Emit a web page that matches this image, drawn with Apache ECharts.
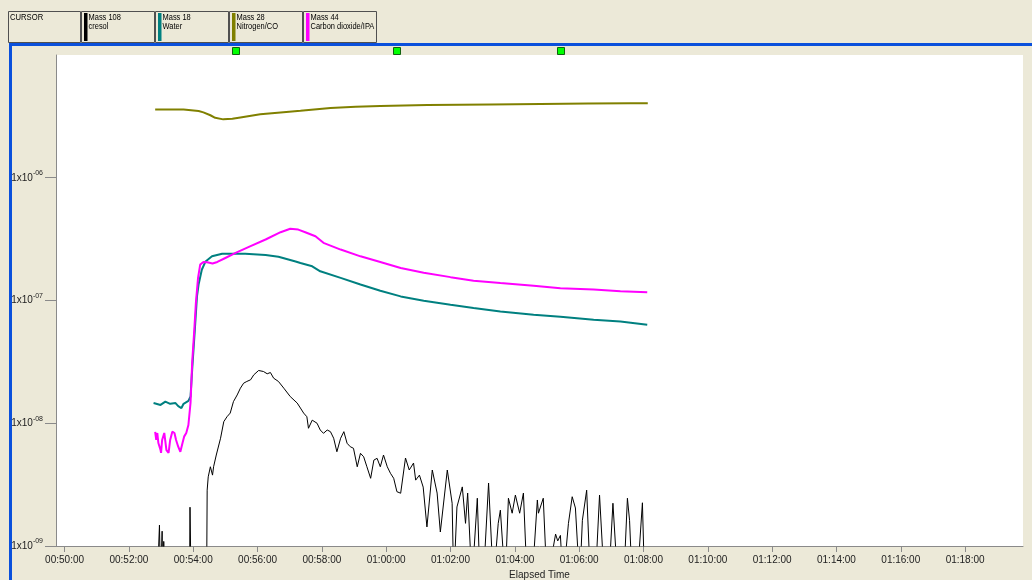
<!DOCTYPE html>
<html>
<head>
<meta charset="utf-8">
<script src="https://cdn.jsdelivr.net/npm/echarts@6/dist/echarts.min.js"></script>
<style>
  html, body { margin: 0; padding: 0; background: #ECE9D8; }
  #chart { width: 1032px; height: 580px; }
</style>
</head>
<body>
<div id="chart"></div>
<script>
// Elapsed time in seconds, partial pressure in Torr (log scale)
const xTickSeconds = [3000, 3120, 3240, 3360, 3480, 3600, 3720, 3840, 3960, 4080, 4200, 4320, 4440, 4560, 4680];
const cursorSeconds = [3320, 3621, 3927];

const legendMass = ['Mass 108', 'Mass 18', 'Mass 28', 'Mass 44'];
const legendName = ['cresol', 'Water', 'Nitrogen/CO', 'Carbon dioxide/IPA'];
const legendColor = ['#000000', '#008080', '#808000', '#FF00FF'];

// Mass 108 (cresol)
const mass108 = [
  [3169,5e-10],[3173,5e-10],[3177,1.48e-9],[3179,5e-10],[3182,1.32e-9],[3183,5e-10],[3185,1.09e-9],[3188,5e-10],
  [3233,5e-10],[3234,2.07e-9],[3236,5e-10],[3265,5e-10],[3266,2.85e-9],[3268,3.66e-9],[3272,4.42e-9],[3276,3.78e-9],
  [3278,4.42e-9],[3283,5.51e-9],[3291,7.55e-9],[3294,7.31e-9],[3297,1.03e-8],[3303,1.13e-8],[3309,1.21e-8],[3315,1.50e-8],
  [3322,1.70e-8],[3328,1.93e-8],[3334,2.12e-8],[3340,2.19e-8],[3347,2.26e-8],[3353,2.48e-8],[3362,2.69e-8],[3371,2.64e-8],
  [3378,2.53e-8],[3384,2.59e-8],[3390,2.33e-8],[3399,2.19e-8],[3409,1.93e-8],[3421,1.65e-8],[3434,1.46e-8],[3440,1.33e-8],
  [3446,1.21e-8],[3452,1.13e-8],[3455,9.10e-9],[3462,1.06e-8],[3471,1.00e-8],[3477,8.81e-9],[3483,8.28e-9],[3490,8.81e-9],
  [3496,8.54e-9],[3502,7.55e-9],[3508,5.86e-9],[3515,7.55e-9],[3521,8.54e-9],[3527,6.87e-9],[3533,6.44e-9],[3539,6.25e-9],
  [3546,4.42e-9],[3552,5.69e-9],[3558,5.33e-9],[3564,4.42e-9],[3571,3.56e-9],[3577,5.01e-9],[3583,5.18e-9],[3589,4.42e-9],
  [3595,5.51e-9],[3602,4.42e-9],[3608,3.91e-9],[3614,3.56e-9],[3620,2.77e-9],[3627,2.69e-9],[3636,5.21e-9],[3643,4.16e-9],
  [3651,4.74e-9],[3655,3.44e-9],[3662,3.78e-9],[3669,3.02e-9],[3676,1.43e-9],[3686,4.16e-9],[3695,2.70e-9],[3701,1.30e-9],
  [3714,4.16e-9],[3723,2.23e-9],[3726,5e-10],[3732,2.08e-9],[3742,3.03e-9],[3748,1.53e-9],[3752,2.70e-9],[3760,5e-10],
  [3770,2.45e-9],[3775,5e-10],[3781,5e-10],[3791,3.26e-9],[3800,5e-10],[3809,1.53e-9],[3813,1.96e-9],[3822,5e-10],
  [3828,2.45e-9],[3835,1.85e-9],[3841,2.60e-9],[3849,1.85e-9],[3856,2.70e-9],[3863,5e-10],[3872,5e-10],[3882,2.37e-9],
  [3884,1.85e-9],[3893,2.45e-9],[3900,5e-10],[3916,1.25e-9],[3920,1.10e-9],[3925,1.22e-9],[3930,5e-10],[3940,1.53e-9],
  [3947,2.52e-9],[3953,2.04e-9],[3961,5e-10],[3966,1.62e-9],[3974,2.85e-9],[3981,5e-10],[3990,5e-10],[3998,2.60e-9],
  [4007,5e-10],[4015,5e-10],[4023,2.23e-9],[4032,5e-10],[4043,5e-10],[4050,2.45e-9],[4054,1.62e-9],[4059,5e-10],
  [4068,5e-10],[4078,2.25e-9],[4082,5e-10]
];

// Mass 18 (water)
const mass18 = [
  [3166,1.46e-8],[3179,1.41e-8],[3188,1.50e-8],[3197,1.44e-8],[3207,1.46e-8],[3212,1.38e-8],[3218,1.33e-8],[3222,1.44e-8],
  [3225,1.47e-8],[3231,1.52e-8],[3235,1.65e-8],[3238,2.72e-8],[3243,5.78e-8],[3247,1.08e-7],[3250,1.35e-7],[3256,1.78e-7],
  [3263,2.08e-7],[3275,2.29e-7],[3294,2.40e-7],[3337,2.40e-7],[3375,2.35e-7],[3399,2.27e-7],[3431,2.08e-7],[3440,2.02e-7],
  [3462,1.90e-7],[3477,1.73e-7],[3515,1.53e-7],[3552,1.35e-7],[3589,1.20e-7],[3627,1.08e-7],[3670,9.96e-8],[3720,9.25e-8],
  [3763,8.69e-8],[3813,8.15e-8],[3875,7.66e-8],[3925,7.38e-8],[3987,6.97e-8],[4037,6.75e-8],[4087,6.34e-8]
];

// Mass 28 (nitrogen / CO)
const mass28 = [
  [3169,3.59e-6],[3222,3.59e-6],[3225,3.50e-6],[3250,3.50e-6],[3259,3.41e-6],[3272,3.23e-6],[3281,3.08e-6],[3296,2.99e-6],
  [3313,3.02e-6],[3328,3.10e-6],[3365,3.29e-6],[3403,3.40e-6],[3440,3.51e-6],[3496,3.70e-6],[3543,3.79e-6],[3589,3.84e-6],
  [3677,3.91e-6],[3795,3.96e-6],[3888,3.99e-6],[3976,4.02e-6],[4056,4.04e-6],[4088,4.04e-6]
];

// Mass 44 (carbon dioxide / IPA)
const mass44 = [
  [3169,8.49e-9],[3171,7.31e-9],[3173,8.33e-9],[3175,6.90e-9],[3179,6.05e-9],[3180,5.73e-9],[3182,7.31e-9],[3186,8.33e-9],
  [3190,6.05e-9],[3194,5.73e-9],[3197,7.31e-9],[3201,8.54e-9],[3205,8.33e-9],[3208,7.31e-9],[3212,6.44e-9],[3216,5.86e-9],
  [3220,6.90e-9],[3223,7.78e-9],[3227,8.33e-9],[3231,9.68e-9],[3235,1.47e-8],[3238,3.10e-8],[3242,5.78e-8],[3245,9.60e-8],
  [3249,1.53e-7],[3253,1.96e-7],[3259,2.06e-7],[3266,2.05e-7],[3276,2.00e-7],[3285,2.06e-7],[3300,2.22e-7],[3319,2.44e-7],
  [3347,2.77e-7],[3375,3.14e-7],[3403,3.60e-7],[3421,3.84e-7],[3436,3.78e-7],[3449,3.60e-7],[3468,3.34e-7],[3483,2.95e-7],
  [3515,2.60e-7],[3552,2.29e-7],[3589,2.06e-7],[3627,1.84e-7],[3670,1.68e-7],[3720,1.55e-7],[3763,1.45e-7],[3813,1.39e-7],
  [3875,1.32e-7],[3925,1.26e-7],[3987,1.23e-7],[4037,1.19e-7],[4087,1.17e-7]
];

const FONT = '"Liberation Sans", Arial, sans-serif';

function hms(sec) {
  const h = Math.floor(sec / 3600);
  const m = Math.floor((sec % 3600) / 60);
  const s = Math.round(sec % 60);
  const p = n => String(n).padStart(2, '0');
  return p(h) + ':' + p(m) + ':' + p(s);
}

function sciLabel(v) {
  const e = Math.round(Math.log10(v));
  const exp = (e < 0 ? '-' : '') + String(Math.abs(e)).padStart(2, '0');
  return '{b|1x10}{s|' + exp + '}';
}

const chart = echarts.init(document.getElementById('chart'), null, { renderer: 'canvas' });

function lineSeries(name, data, color, width) {
  return {
    name: name,
    type: 'line',
    data: data,
    showSymbol: false,
    symbol: 'none',
    clip: true,
    smooth: false,
    lineStyle: { color: color, width: width },
    itemStyle: { color: color },
    emphasis: { disabled: true },
    animation: false
  };
}

chart.setOption({
  animation: false,
  backgroundColor: '#ECE9D8',
  grid: {
    left: 56, right: 9, top: 55, bottom: 34,
    show: true, backgroundColor: '#FFFFFF', borderWidth: 0,
    containLabel: false, outerBoundsMode: 'none'
  },
  xAxis: {
    type: 'value',
    min: 2984, max: 4788,
    name: 'Elapsed Time',
    nameLocation: 'middle',
    nameGap: 24,
    nameTextStyle: { fontSize: 10, color: '#222', fontFamily: FONT },
    axisLine: { show: true, onZero: false, lineStyle: { color: '#8a8a8a', width: 1 } },
    axisTick: { show: true, length: 6, customValues: xTickSeconds, lineStyle: { color: '#8a8a8a' } },
    axisLabel: {
      customValues: xTickSeconds, margin: 9, fontSize: 10, color: '#222', fontFamily: FONT,
      formatter: v => hms(v)
    },
    splitLine: { show: false }
  },
  yAxis: {
    type: 'log',
    logBase: 10,
    min: 1e-9, max: 1e-5,
    axisLine: { show: true, lineStyle: { color: '#8a8a8a', width: 1 } },
    axisTick: { show: true, length: 11, lineStyle: { color: '#8a8a8a' } },
    axisLabel: {
      showMaxLabel: false,
      margin: 13,
      color: '#222',
      fontFamily: FONT,
      formatter: v => sciLabel(v),
      rich: {
        b: { fontSize: 10, lineHeight: 16, color: '#222', fontFamily: FONT },
        s: { fontSize: 7, lineHeight: 8, verticalAlign: 'top', color: '#222', fontFamily: FONT }
      }
    },
    splitLine: { show: false }
  },
  series: [
    lineSeries('Mass 28', mass28, legendColor[2], 2),
    lineSeries('Mass 18', mass18, legendColor[1], 2),
    lineSeries('Mass 44', mass44, legendColor[3], 2),
    lineSeries('Mass 108', mass108, legendColor[0], 1)
  ]
});

// Window frame, cursor panel, mass legend and cursor markers
const graphics = [];
graphics.push({
  type: 'rect', silent: true, z: 1,
  shape: { x: 10.5, y: 44.5, width: 1100, height: 600 },
  style: { fill: 'none', stroke: '#0A50DC', lineWidth: 3 }
});
graphics.push({
  type: 'rect', silent: true, z: 1,
  shape: { x: 8.5, y: 11.5, width: 72, height: 31 },
  style: { fill: '#ECE9D8', stroke: '#505050', lineWidth: 1 }
});
graphics.push({
  type: 'text', silent: true, z: 2, x: 10, y: 17.5, scaleX: 0.85,
  style: { text: 'CURSOR', fontSize: 9, fontFamily: FONT, fill: '#000', verticalAlign: 'middle' }
});
legendMass.forEach((m, i) => {
  const x0 = 81.5 + i * 74;
  graphics.push({
    type: 'rect', silent: true, z: 1,
    shape: { x: x0, y: 11.5, width: 73, height: 31 },
    style: { fill: '#ECE9D8', stroke: '#505050', lineWidth: 1 }
  });
  graphics.push({
    type: 'rect', silent: true, z: 2,
    shape: { x: x0 + 2.5, y: 13, width: 3.5, height: 28 },
    style: { fill: legendColor[i] }
  });
  graphics.push({
    type: 'text', silent: true, z: 2, x: x0 + 7, y: 17.5, scaleX: 0.83,
    style: { text: m, fontSize: 9, fontFamily: FONT, fill: '#000', verticalAlign: 'middle' }
  });
  graphics.push({
    type: 'text', silent: true, z: 2, x: x0 + 7, y: 26.5, scaleX: 0.83,
    style: { text: legendName[i], fontSize: 9, fontFamily: FONT, fill: '#000', verticalAlign: 'middle' }
  });
});
cursorSeconds.forEach(t => {
  const px = chart.convertToPixel({ xAxisIndex: 0 }, t);
  graphics.push({
    type: 'rect', silent: true, z: 3,
    shape: { x: Math.round(px) - 3.5, y: 47.5, width: 7, height: 7 },
    style: { fill: '#00FF00', stroke: '#106010', lineWidth: 1 }
  });
});
chart.setOption({ graphic: graphics });
</script>
</body>
</html>
